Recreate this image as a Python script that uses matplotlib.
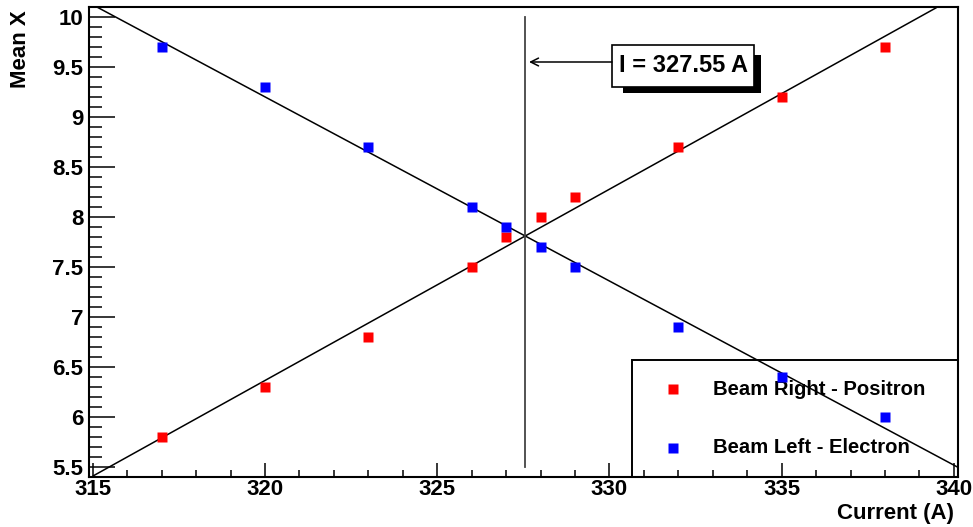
import numpy as np
import matplotlib
matplotlib.use("Agg")
import matplotlib.pyplot as plt
from matplotlib.patches import Rectangle
from matplotlib.ticker import MultipleLocator, FormatStrFormatter

plt.rcParams['font.family'] = ['Liberation Sans', 'DejaVu Sans']
plt.rcParams['font.weight'] = 'bold'

# measured mean X vs magnet current
current = [317, 320, 323, 326, 327, 328, 329, 332, 335, 338]
positron = [5.8, 6.3, 6.8, 7.5, 7.8, 8.0, 8.2, 8.7, 9.2, 9.7]
electron = [9.7, 9.3, 8.7, 8.1, 7.9, 7.7, 7.5, 6.9, 6.4, 6.0]
labels = ['Beam Right - Positron', 'Beam Left - Electron']

x = np.array(current, dtype=float)
pr = np.polyfit(x, positron, 1)
pl = np.polyfit(x, electron, 1)
# crossing point of the two straight-line fits
i_cross = (pl[1] - pr[1]) / (pr[0] - pl[0])

fig = plt.figure(figsize=(9.73, 5.27), dpi=100)
ax = fig.add_axes([0.0915, 0.0949, 0.8928, 0.8918])
ax.set_xlim(314.89, 340.11)
ax.set_ylim(5.4, 10.1)

xs = np.linspace(314.89, 340.11, 200)
for p in (pr, pl):
    ys = np.polyval(p, xs)
    m = (ys >= 5.4) & (ys <= 10.1)
    ax.plot(xs[m], ys[m], color='black', lw=1.1, zorder=2)

ax.plot([i_cross, i_cross], [5.5, 10.0], color='#444444', lw=1.3, zorder=2)

ax.plot(current, positron, 's', color='red', ms=7.2, mec='none', zorder=3)
ax.plot(current, electron, 's', color='blue', ms=7.2, mec='none', zorder=3)

# label box with shadow and arrow
ax.add_patch(Rectangle((0.6147, 0.817), 0.159, 0.081, transform=ax.transAxes,
                       facecolor='black', edgecolor='none', zorder=4))
ax.add_patch(Rectangle((0.602, 0.830), 0.1635, 0.089, transform=ax.transAxes,
                       facecolor='white', edgecolor='black', lw=1.2, zorder=5))
ax.text(0.6838, 0.8745, 'I = %.2f A' % i_cross, transform=ax.transAxes,
        ha='center', va='center', fontsize=17, fontweight='bold', zorder=6)
ax.annotate('', xy=(0.5065, 0.883), xycoords='axes fraction',
            xytext=(0.602, 0.883), textcoords='axes fraction',
            arrowprops=dict(arrowstyle='->', color='black', lw=1.1,
                            mutation_scale=14, shrinkA=0, shrinkB=0), zorder=6)

# legend
ax.add_patch(Rectangle((0.625, 0.0), 0.375, 0.249, transform=ax.transAxes,
                       facecolor='white', edgecolor='black', lw=1.4, zorder=1))
for yy, col, lab in [(0.187, 'red', labels[0]), (0.062, 'blue', labels[1])]:
    ax.plot([0.672], [yy], 's', color=col, ms=7.2, mec='none',
            transform=ax.transAxes, zorder=3)
    ax.text(0.718, yy, lab, transform=ax.transAxes, ha='left', va='center',
            fontsize=14.6, fontweight='bold', zorder=1)

ax.xaxis.set_major_locator(MultipleLocator(5))
ax.xaxis.set_minor_locator(MultipleLocator(1))
ax.yaxis.set_major_locator(MultipleLocator(0.5))
ax.yaxis.set_minor_locator(MultipleLocator(0.1))
ax.yaxis.set_major_formatter(FormatStrFormatter('%g'))
ax.xaxis.set_major_formatter(FormatStrFormatter('%g'))

ax.tick_params(axis='both', which='both', direction='in', width=1.1,
               labelsize=16, colors='black')
ax.tick_params(axis='y', which='major', length=18.7, pad=4)
ax.tick_params(axis='y', which='minor', length=9.4)
ax.tick_params(axis='x', which='major', length=10, pad=1.5)
ax.tick_params(axis='x', which='minor', length=5)
for t in ax.get_xticklabels() + ax.get_yticklabels():
    t.set_fontweight('bold')
for s in ax.spines.values():
    s.set_linewidth(1.5)

fig.text(20 / 973, 1 - 10 / 527, 'Mean X', rotation=90, ha='center', va='top',
         fontsize=16, fontweight='bold')
fig.text(954 / 973, 1 - 513 / 527, 'Current (A)', ha='right', va='center',
         fontsize=16, fontweight='bold')

fig.savefig('out.png', dpi=100)
